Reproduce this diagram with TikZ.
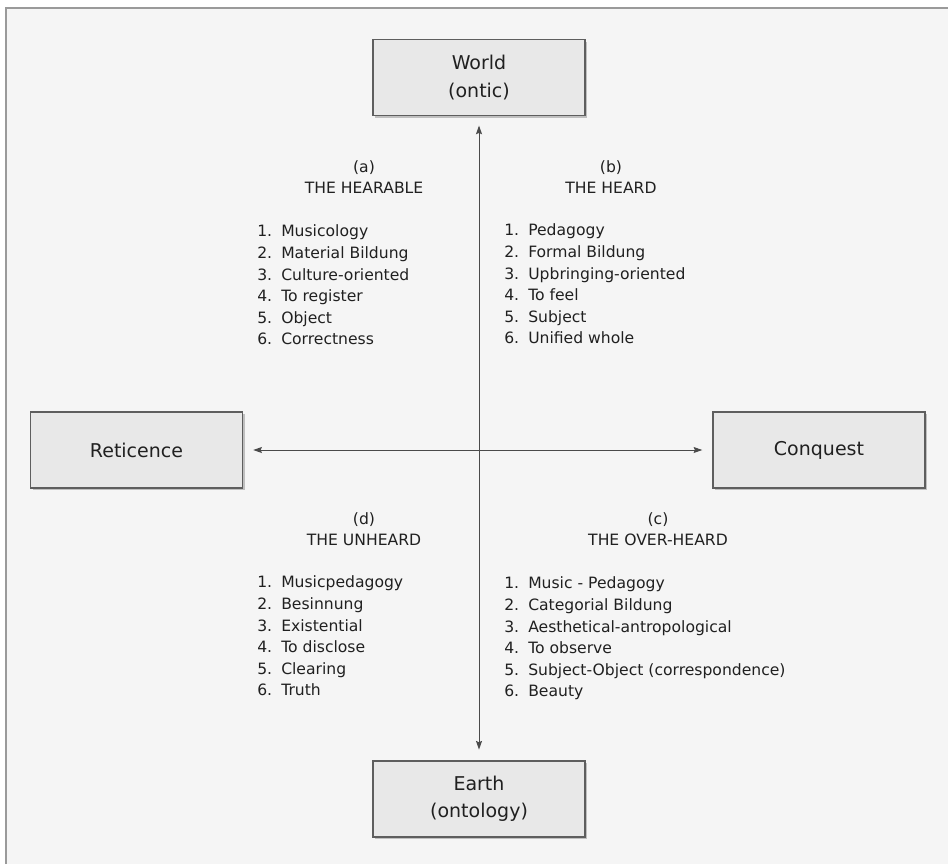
\documentclass[tikz,border=0pt]{standalone}
\usepackage{fontspec}
\setmainfont{DejaVu Sans}
\usetikzlibrary{arrows.meta,shadows}
\definecolor{bgc}{HTML}{F5F5F5}
\definecolor{framec}{HTML}{9A9A9A}
\definecolor{boxfill}{HTML}{E8E8E8}
\definecolor{boxline}{HTML}{5E5E5E}
\definecolor{txt}{HTML}{202020}
\definecolor{arrowc}{HTML}{4A4A4A}
\newcommand\litem[2]{\makebox[18pt][l]{#1.}#2}
\begin{document}
\begin{tikzpicture}[x=0.75pt,y=-0.75pt,
  box/.style={draw=boxline, fill=boxfill, line width=1.1pt,
    minimum width=159pt, minimum height=57pt, inner sep=0pt, align=center,
    text=txt, font=\fontsize{14.25}{20.5}\selectfont,
    drop shadow={opacity=0.22, shadow xshift=1.6pt, shadow yshift=-1.6pt, fill=black}},
  lst/.style={anchor=north west, inner sep=0pt, text=txt, font=\fontsize{11.7}{16.2}\selectfont},
  hdr/.style={anchor=north, inner sep=0pt, text=txt, font=\fontsize{11.7}{16.2}\selectfont},
  biarrow/.style={draw=arrowc, line width=0.75pt,
    {Stealth[length=6.5pt,width=4.5pt,inset=1pt]}-{Stealth[length=6.5pt,width=4.5pt,inset=1pt]}}]
\useasboundingbox (0,0) rectangle (948,864);
\fill[white] (0,0) rectangle (948,864);
\fill[bgc] (6,8) rectangle (948,864);
\draw[framec, line width=2pt] (6,864) -- (6,8) -- (948,8);

\node[box] (world) at (479,77.5) {World\\(ontic)};
\node[box] (earth) at (479,799) {Earth\\(ontology)};
\node[box] (ret) at (136.5,450) {Reticence};
\node[box] (con) at (819,450) {Conquest};

\draw[biarrow, shorten <=7.5pt, shorten >=7.5pt] (ret) -- (con);
\draw[biarrow, shorten <=7pt, shorten >=8pt] (world) -- (earth);

\node[hdr] (ha) at (364,157) {\begin{tabular}{@{}c@{}}(a)\\THE HEARABLE\end{tabular}};
\node[hdr] (hb) at (611,157) {\begin{tabular}{@{}c@{}}(b)\\THE HEARD\end{tabular}};
\node[hdr] (hd) at (364,509) {\begin{tabular}{@{}c@{}}(d)\\THE UNHEARD\end{tabular}};
\node[hdr] (hc) at (658,509) {\begin{tabular}{@{}c@{}}(c)\\THE OVER-HEARD\end{tabular}};

\node[lst] (la) at (257,221.5) {\begin{tabular}{@{}l@{}}
\litem{1}{Musicology}\\
\litem{2}{Material Bildung}\\
\litem{3}{Culture-oriented}\\
\litem{4}{To register}\\
\litem{5}{Object}\\
\litem{6}{Correctness}
\end{tabular}};
\node[lst] (lb) at (504,220.5) {\begin{tabular}{@{}l@{}}
\litem{1}{Pedagogy}\\
\litem{2}{Formal Bildung}\\
\litem{3}{Upbringing-oriented}\\
\litem{4}{To feel}\\
\litem{5}{Subject}\\
\litem{6}{Unified whole}
\end{tabular}};
\node[lst] (ld) at (257,572.5) {\begin{tabular}{@{}l@{}}
\litem{1}{Musicpedagogy}\\
\litem{2}{Besinnung}\\
\litem{3}{Existential}\\
\litem{4}{To disclose}\\
\litem{5}{Clearing}\\
\litem{6}{Truth}
\end{tabular}};
\node[lst] (lc) at (504,573.5) {\begin{tabular}{@{}l@{}}
\litem{1}{Music - Pedagogy}\\
\litem{2}{Categorial Bildung}\\
\litem{3}{Aesthetical-antropological}\\
\litem{4}{To observe}\\
\litem{5}{Subject-Object (correspondence)}\\
\litem{6}{Beauty}
\end{tabular}};
\end{tikzpicture}
\end{document}
